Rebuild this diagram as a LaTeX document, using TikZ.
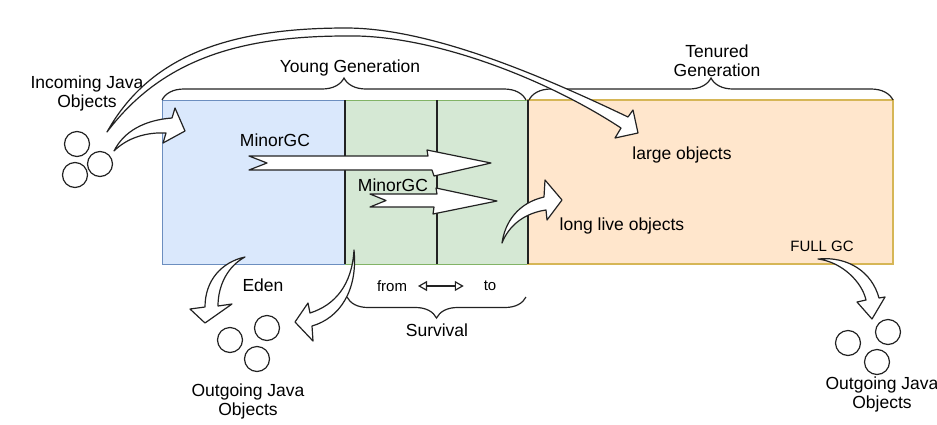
\documentclass[tikz,border=0pt]{standalone}
\usepackage{fontspec}
\setmainfont{Liberation Sans}
\usetikzlibrary{arrows.meta,decorations.pathreplacing}
\definecolor{edenfill}{HTML}{DAE8FC}
\definecolor{edenline}{HTML}{6C8EBF}
\definecolor{survfill}{HTML}{D5E8D4}
\definecolor{survline}{HTML}{82B366}
\definecolor{tenfill}{HTML}{FFE6CC}
\definecolor{tenline}{HTML}{D6B656}
\definecolor{inkline}{HTML}{222222}

\begin{document}
\begin{tikzpicture}[y=0.5pt, x=0.5pt, yscale=-1, inner sep=0pt, outer sep=0pt,
  bigarrow/.style={draw=inkline, fill=white, line join=round, line width=0.6pt},
  lbl/.style={font=\fontsize{8.75}{9.5}\selectfont, align=center},
  smalllbl/.style={font=\fontsize{7.5}{9}\selectfont},
  bracket/.style={draw=inkline, line width=0.6pt, decorate,
    decoration={brace, amplitude=#1}}]
  \useasboundingbox (0,0) rectangle (937,424);
  \path[fill=edenfill, draw=edenline, line width=0.5pt] (162,100) rectangle (345,264);
  \path[fill=survfill, draw=survline, line width=0.5pt] (345,100) rectangle (528,264);
  \path[fill=tenfill, draw=tenline, line width=0.6pt] (528,100) rectangle (893,264);
  \path[draw=inkline, line width=0.6pt] (345,100) -- (345,264);
  \path[draw=inkline, line width=0.6pt] (437,100) -- (437,264);
  \path[draw=inkline, line width=0.6pt] (528,100) -- (528,264);
  \path[bracket=11pt] (162,100) -- (526,100);
  \path[bracket=11pt] (529,100) -- (893,100);
  \path[bracket=10.5pt] (526,297) -- (347,297);
  \foreach \cx/\cy in {77/144, 75/175, 100/164, 230/340, 267/328, 257/359,
    848/343, 888/332, 877/362}
    \path[draw=inkline, line width=0.6pt] (\cx,\cy) circle[radius=12.5];
  \node[lbl] (incoming) at (87,93) {Incoming Java\\Objects};
  \node[lbl] (young) at (350,68) {Young Generation};
  \node[lbl] (tenured) at (717,61) {Tenured\\Generation};
  \node[lbl] (minorgca) at (275,140) {MinorGC};
  \node[lbl] (minorgcb) at (393,185) {MinorGC};
  \node[lbl] (large) at (682,155) {large objects};
  \node[lbl] (longlive) at (622,226) {long live objects};
  \node[smalllbl] (fullgc) at (822,246) {FULL GC};
  \node[lbl] (eden) at (263,285) {Eden};
  \node[smalllbl] (fromlabel) at (392,286) {from};
  \node[smalllbl] (tolabel) at (490,286) {to};
  \node[lbl] (survival) at (437,330) {Survival};
  \node[lbl] (outleft) at (248,401) {Outgoing Java\\Objects};
  \node[lbl] (outright) at (882,394) {Outgoing Java\\Objects};
  \draw[draw=inkline, line width=0.6pt,
    {Triangle[open,length=4.5pt,width=5pt]}-{Triangle[open,length=4.5pt,width=5pt]}]
    ([xshift=5.5pt]fromlabel.east) -- ([xshift=-10pt]tolabel.west);
  \path[bigarrow] (114,151) .. controls (124,131) and (145,120) .. (172,118) --
    (175,108) -- (185,131) -- (163,143) -- (166,133) .. controls (146,132) and
    (127,138) .. (114,151) -- cycle;
  \path[bigarrow] (107,132) .. controls (150,55) and (230,28) .. (346,28) ..
    controls (430,28) and (540,75) .. (628,117) -- (633,110) -- (638,133) --
    (615,138) -- (621,128) .. controls (545,78) and (430,34) .. (346,36) ..
    controls (235,36) and (160,62) .. (107,132) -- cycle;
  \path[bigarrow] (249,156) -- (428,156) -- (427,150) -- (491,163) -- (434,176) --
    (432,170) -- (249,170) -- (267,163) -- cycle;
  \path[bigarrow] (370,194) -- (437,194) -- (436,188) -- (497,201) -- (433,214) --
    (434,207) -- (370,207) -- (386,200.5) -- cycle;
  \path[bigarrow] (502,243) .. controls (505,222) and (518,203) .. (544,197) --
    (545,180) -- (562,200) -- (547,220) -- (546,210) .. controls (525,213) and
    (509,225) .. (502,243) -- cycle;
  \path[bigarrow] (818,259) .. controls (848,256) and (872,272) .. (879,298) --
    (885,297) -- (872,319) -- (857,302) -- (866,300) .. controls (862,282) and
    (842,262) .. (818,259) -- cycle;
  \path[bigarrow] (245,257) .. controls (222,262) and (205,280) .. (205,307) --
    (190,309) -- (205,323) -- (232,304) -- (218,306) .. controls (218,285) and
    (228,266) .. (245,257) -- cycle;
  \path[bigarrow] (354,250) .. controls (358,290) and (340,318) .. (312,326) --
    (313,341) -- (295,322) -- (308,303) -- (310,313) .. controls (335,305) and
    (352,285) .. (354,250) -- cycle;
\end{tikzpicture}
\end{document}
